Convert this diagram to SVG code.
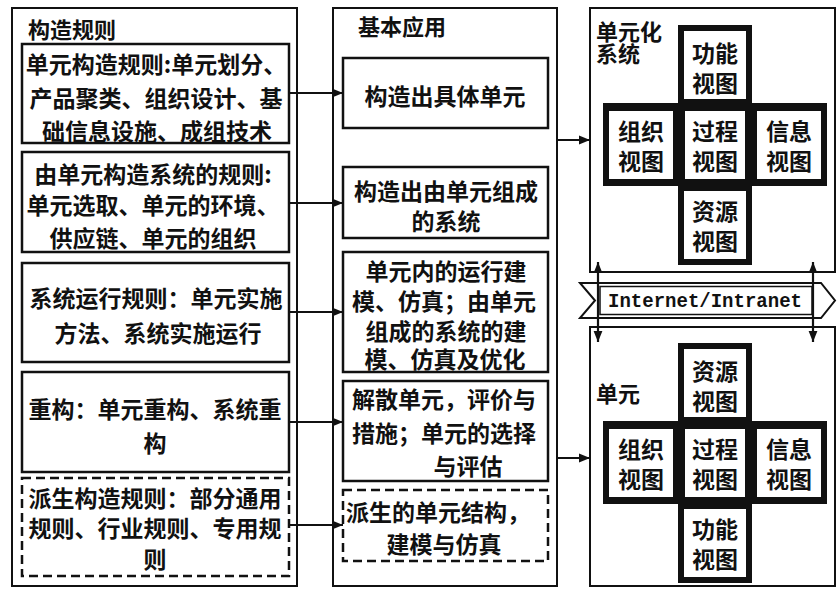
<svg xmlns="http://www.w3.org/2000/svg" width="837" height="589" viewBox="0 0 837 589">
<style>
text{font-family:"Noto Sans CJK SC","Noto Sans",sans-serif;font-weight:bold;fill:#111;dominant-baseline:central}
.t{font-size:23px}
.c{text-anchor:middle}
.h{font-size:22px}
.outer{fill:#fff;stroke:#111;stroke-width:2}
.box{fill:#fff;stroke:#111;stroke-width:2.5}
.dash{fill:#fff;stroke:#111;stroke-width:2.5;stroke-dasharray:9 5}
.conn{stroke:#111;stroke-width:2.2;fill:none}
.blk{fill:#111}
.wht{fill:#fff}
.cell{font-size:23px;text-anchor:middle}
.net{font-family:"Liberation Mono",monospace;font-weight:bold;font-size:21px}
</style>
<defs>
<marker id="ah" viewBox="0 0 10 10" refX="10" refY="5" markerWidth="6" markerHeight="5" orient="auto-start-reverse" markerUnits="strokeWidth">
<path d="M0,1 L10,5 L0,9 z" fill="#111"/>
</marker>
<g id="cross">
<rect class="blk" x="678" y="25" width="74" height="80"/>
<rect class="blk" x="603" y="103" width="224" height="83"/>
<rect class="blk" x="678" y="184" width="74" height="81"/>
<rect class="wht" x="684" y="31" width="62" height="68"/>
<rect class="wht" x="609" y="111" width="64" height="68"/>
<rect class="wht" x="685" y="111" width="60" height="68"/>
<rect class="wht" x="757" y="111" width="64" height="68"/>
<rect class="wht" x="684" y="191" width="62" height="68"/>
</g>
</defs>

<!-- Column 1: 构造规则 -->
<g id="col-rules">
<rect class="outer" x="12" y="8" width="285" height="578"/>
<text class="h" x="28" y="28">构造规则</text>
</g>
<g id="rule1">
<rect class="box" x="22" y="44" width="267" height="99"/>
<text class="t c" x="156" y="63">单元构造规则:单元划分、</text>
<text class="t c" x="156" y="97">产品聚类、组织设计、基</text>
<text class="t c" x="157" y="130">础信息设施、成组技术</text>
</g>
<g id="rule2">
<rect class="box" x="22" y="152" width="267" height="100"/>
<text class="t c" x="153" y="173">由单元构造系统的规则:</text>
<text class="t c" x="153" y="204">单元选取、单元的环境、</text>
<text class="t c" x="153" y="237">供应链、单元的组织</text>
</g>
<g id="rule3">
<rect class="box" x="22" y="263" width="267" height="99"/>
<text class="t c" x="156" y="297">系统运行规则：单元实施</text>
<text class="t c" x="158" y="332">方法、系统实施运行</text>
</g>
<g id="rule4">
<rect class="box" x="22" y="372" width="267" height="100"/>
<text class="t c" x="155" y="408">重构：单元重构、系统重</text>
<text class="t c" x="155" y="442">构</text>
</g>
<g id="rule5">
<rect class="dash" x="22" y="478" width="267" height="98"/>
<text class="t c" x="155" y="497">派生构造规则：部分通用</text>
<text class="t c" x="155" y="527">规则、行业规则、专用规</text>
<text class="t c" x="155" y="558">则</text>
</g>

<!-- Column 2: 基本应用 -->
<g id="col-app">
<rect class="outer" x="333" y="8" width="224" height="578"/>
<text class="h" x="358" y="25">基本应用</text>
</g>
<g id="app1">
<rect class="box" x="343" y="58" width="205" height="70"/>
<text class="t c" x="445" y="95">构造出具体单元</text>
</g>
<g id="app2">
<rect class="box" x="343" y="167" width="205" height="71"/>
<text class="t c" x="446" y="190">构造出由单元组成</text>
<text class="t c" x="446" y="220">的系统</text>
</g>
<g id="app3">
<rect class="box" x="343" y="252" width="205" height="120"/>
<text class="t c" x="446" y="270">单元内的运行建</text>
<text class="t c" x="444" y="300">模、仿真；由单元</text>
<text class="t c" x="446" y="330">组成的系统的建</text>
<text class="t c" x="445" y="358">模、仿真及优化</text>
</g>
<g id="app4">
<rect class="box" x="343" y="381" width="205" height="100"/>
<text class="t c" x="444" y="398">解散单元，评价与</text>
<text class="t c" x="444" y="432">措施；单元的选择</text>
<text class="t c" x="468" y="465">与评估</text>
</g>
<g id="app5">
<rect class="dash" x="343" y="490" width="205" height="71"/>
<text class="t c" x="438" y="511">派生的单元结构，</text>
<text class="t c" x="444" y="543">建模与仿真</text>
</g>

<!-- Column 3: 单元化系统 -->
<g id="system">
<rect class="outer" x="590" y="8" width="245" height="264"/>
<text class="h" x="596" y="30">单元化</text>
<text class="h" x="596" y="52">系统</text>
<use href="#cross"/>
<text class="cell" x="715" y="52">功能</text>
<text class="cell" x="715" y="82">视图</text>
<text class="cell" x="641" y="130">组织</text>
<text class="cell" x="641" y="160">视图</text>
<text class="cell" x="715" y="130">过程</text>
<text class="cell" x="715" y="160">视图</text>
<text class="cell" x="789" y="130">信息</text>
<text class="cell" x="789" y="160">视图</text>
<text class="cell" x="715" y="210">资源</text>
<text class="cell" x="715" y="240">视图</text>
</g>

<g id="unit">
<rect class="outer" x="590" y="327" width="245" height="259"/>
<text class="h" x="596" y="392">单元</text>
<use href="#cross" transform="translate(0,318)"/>
<text class="cell" x="715" y="370">资源</text>
<text class="cell" x="715" y="400">视图</text>
<text class="cell" x="641" y="448">组织</text>
<text class="cell" x="641" y="478">视图</text>
<text class="cell" x="715" y="448">过程</text>
<text class="cell" x="715" y="478">视图</text>
<text class="cell" x="789" y="448">信息</text>
<text class="cell" x="789" y="478">视图</text>
<text class="cell" x="715" y="528">功能</text>
<text class="cell" x="715" y="558">视图</text>
</g>

<g id="network">
<path d="M580,283 L821,283 L835,300.5 L821,318 L580,318 L595,300.5 Z" fill="#fff" stroke="#111" stroke-width="2"/>
<rect x="600" y="286.5" width="212" height="28" fill="none" stroke="#111" stroke-width="1.5"/>
<text class="net c" x="705" y="301" textLength="194" lengthAdjust="spacingAndGlyphs">Internet/Intranet</text>
</g>

<!-- Connectors -->
<g id="connectors">
<line class="conn" x1="289" y1="93" x2="343" y2="93" marker-end="url(#ah)"/>
<line class="conn" x1="289" y1="203" x2="343" y2="203" marker-end="url(#ah)"/>
<line class="conn" x1="289" y1="312" x2="343" y2="312" marker-end="url(#ah)"/>
<line class="conn" x1="289" y1="422" x2="343" y2="422" marker-end="url(#ah)"/>
<line class="conn" x1="289" y1="525" x2="343" y2="525" marker-end="url(#ah)"/>
<line class="conn" x1="557" y1="140" x2="590" y2="140" marker-end="url(#ah)"/>
<line class="conn" x1="557" y1="458" x2="590" y2="458" marker-end="url(#ah)"/>
<line class="conn" x1="598" y1="262" x2="598" y2="342" marker-start="url(#ah)" marker-end="url(#ah)"/>
<line class="conn" x1="813" y1="262" x2="813" y2="342" marker-start="url(#ah)" marker-end="url(#ah)"/>
</g>
</svg>
